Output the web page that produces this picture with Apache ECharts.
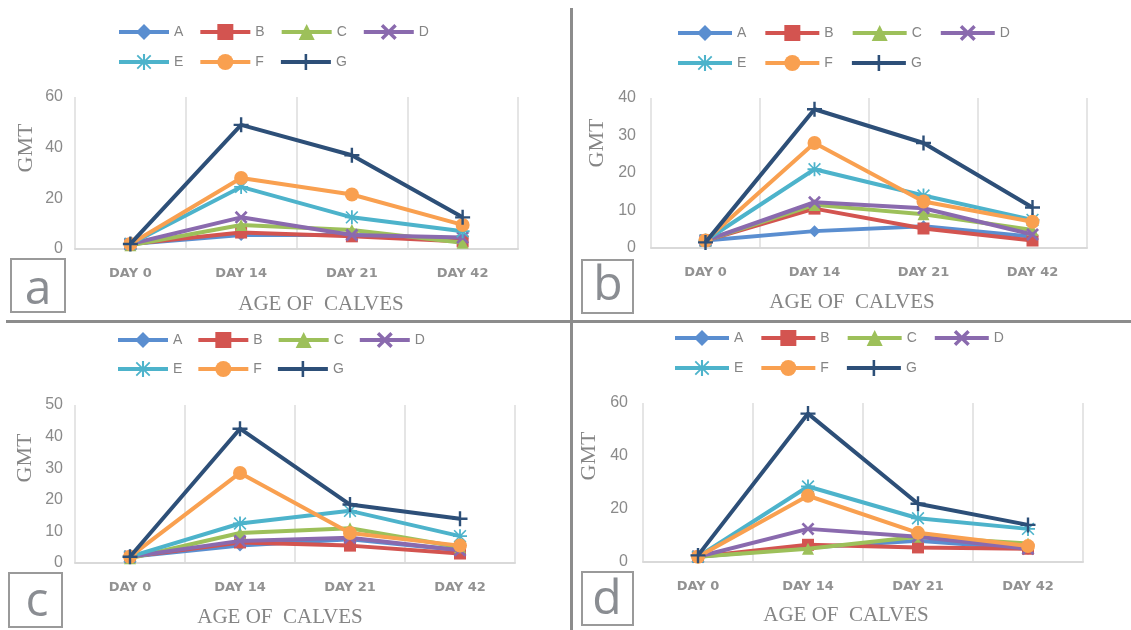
<!DOCTYPE html>
<html><head><meta charset="utf-8">
<script src="https://cdn.jsdelivr.net/npm/echarts@6/dist/echarts.min.js"></script>
<style>html,body{margin:0;padding:0;background:#fff}#c{width:1131px;height:630px}</style>
</head><body><div id="c"></div>
<script>
// ---- data ----
const categories = ['DAY 0', 'DAY 14', 'DAY 21', 'DAY 42'];
const seriesNames = ['A', 'B', 'C', 'D', 'E', 'F', 'G'];
const panelLetters = ['a', 'b', 'c', 'd'];
const yMax = [60, 40, 50, 60];
const yInterval = [20, 10, 10, 20];
// rows: A..G, columns: DAY 0, DAY 14, DAY 21, DAY 42
const panelA = [
  [2, 5.5, 5.5, 4],
  [2, 6.5, 5, 3],
  [1.5, 9.5, 7.5, 2.5],
  [2, 12.5, 5.5, 4.5],
  [2, 24.5, 12.5, 7],
  [2, 28, 21.5, 9.5],
  [2, 49, 37, 12.5]
];
const panelB = [
  [2, 4.5, 5.8, 3],
  [2, 10.5, 5.2, 2],
  [2, 11.5, 9, 4.8],
  [2, 12.2, 10.6, 3.6],
  [2, 21, 14, 7.5],
  [2, 28, 12.4, 7],
  [1.5, 37, 28, 10.8]
];
const panelC = [
  [2, 5.5, 7.5, 4],
  [2, 6.5, 5.5, 3],
  [1.5, 9.5, 11, 5],
  [2, 7, 8, 4],
  [2, 12.5, 16.5, 8.5],
  [2, 28.5, 9.5, 5.5],
  [2, 42.5, 18.5, 14]
];
const panelD = [
  [2, 5.5, 8, 5],
  [2, 6.5, 5.5, 5],
  [2, 5, 9.5, 7],
  [2, 12.5, 9.5, 5],
  [2, 28.5, 16.5, 12.5],
  [2, 25, 11, 6],
  [2.5, 56, 22, 14]
];
const panels = [panelA, panelB, panelC, panelD];

// ---- styles ----
const colors = ['#5a8ed0', '#d35450', '#9dc05a', '#8a6aae', '#4db3cb', '#f9a050', '#2d4f78'];
const X_PATH = 'path://M1.5,0L5,3.5L8.5,0L10,1.5L6.5,5L10,8.5L8.5,10L5,6.5L1.5,10L0,8.5L3.5,5L0,1.5Z';
const PLUS_PATH = 'path://M4.2,0H5.8V4.2H10V5.8H5.8V10H4.2V5.8H0V4.2H4.2Z';
const STAR_PATH = 'path://M4.35,0H5.65V4.35H10V5.65H5.65V10H4.35V5.65H0V4.35H4.35Z M1.2,0.4L5,4.2L8.8,0.4L9.6,1.2L5.8,5L9.6,8.8L8.8,9.6L5,5.8L1.2,9.6L0.4,8.8L4.2,5L0.4,1.2Z';
const symbols = ['diamond', 'rect', 'triangle', X_PATH, STAR_PATH, 'circle', PLUS_PATH];
const symbolSizes = [12, 12, 12, 13, 14, 14, 15];

const grids = [
  {left: 75, top: 97, width: 443, height: 152},
  {left: 651, top: 98, width: 436, height: 150},
  {left: 75, top: 405, width: 440, height: 158},
  {left: 643, top: 403, width: 440, height: 159}
];
const yLabelMargin = [12, 15, 12, 15];
const legendPos = [
  {left: 117, top1: 24, top2: 54, w: 50, gap: 15},
  {left: 676, top1: 25, top2: 55, w: 54, gap: 17},
  {left: 116, top1: 332, top2: 361, w: 50, gap: 14},
  {left: 673, top1: 330, top2: 360, w: 54, gap: 16}
];
const gmtPos = [[26, 148], [597, 143], [25, 458], [589, 456]];
const agePos = [[321, 304], [852, 302], [280, 617], [846, 615]];
const boxPos = [[11, 259, 54, 53], [582, 260, 51, 53], [9, 573, 53, 54], [582, 572, 51, 53]];
const letterPos = [[38, 290], [608, 286], [37, 602], [607, 600]];

const txtGray = '#858585';
const option = {
  animation: false,
  backgroundColor: '#fff',
  grid: grids,
  xAxis: grids.map((g, p) => ({
    gridIndex: p, type: 'category', data: categories, boundaryGap: true,
    axisLine: {lineStyle: {color: '#d9d9d9', width: 2}},
    axisTick: {show: false},
    splitLine: {show: true, interval: 0, lineStyle: {color: '#dcdcdc', width: 1.5}},
    axisLabel: {interval: 0, color: '#929292', fontSize: 13, fontWeight: 'bold', margin: 18, fontFamily: 'DejaVu Sans'}
  })),
  yAxis: grids.map((g, p) => ({
    gridIndex: p, type: 'value', min: 0, max: yMax[p], interval: yInterval[p],
    splitLine: {show: false}, axisLine: {show: false}, axisTick: {show: false},
    axisLabel: {color: '#8a8a8a', fontSize: 16, margin: yLabelMargin[p], padding: [5, 0, 0, 0], fontFamily: 'Liberation Sans'}
  })),
  legend: [],
  series: [],
  graphic: []
};

legendPos.forEach(l => {
  [[seriesNames.slice(0, 4), l.top1], [seriesNames.slice(4), l.top2]].forEach(([names, top]) => {
    option.legend.push({
      left: l.left, top: top, padding: 0, itemWidth: l.w, itemHeight: 20, itemGap: l.gap,
      data: names, selectedMode: false,
      lineStyle: {width: 4},
      textStyle: {color: txtGray, fontSize: 14, fontFamily: 'Liberation Sans'}
    });
  });
});

panels.forEach((rows, p) => {
  rows.forEach((vals, i) => {
    option.series.push({
      type: 'line', name: seriesNames[i], xAxisIndex: p, yAxisIndex: p,
      data: vals, symbol: symbols[i], symbolSize: symbolSizes[i],
      lineStyle: {width: 4, color: colors[i]},
      itemStyle: {color: colors[i]},
      z: 2 + i
    });
  });
});

// dividers
option.graphic.push({type: 'rect', shape: {x: 570, y: 8, width: 3, height: 622}, style: {fill: '#8c8c8c'}, silent: true});
option.graphic.push({type: 'rect', shape: {x: 6, y: 320, width: 1125, height: 3}, style: {fill: '#8c8c8c'}, silent: true});

panelLetters.forEach((ch, p) => {
  const b = boxPos[p];
  option.graphic.push({type: 'rect', shape: {x: b[0], y: b[1], width: b[2], height: b[3]},
    style: {fill: 'none', stroke: '#9a9a9a', lineWidth: 2}, silent: true});
  option.graphic.push({type: 'text', x: letterPos[p][0], y: letterPos[p][1],
    style: {text: ch, font: '48px "Open Sans"', fill: '#8a8d92', align: 'center', verticalAlign: 'middle'}, silent: true});
  option.graphic.push({type: 'text', x: gmtPos[p][0], y: gmtPos[p][1], rotation: Math.PI / 2,
    style: {text: 'GMT', font: '22px "Liberation Serif"', fill: txtGray, align: 'center', verticalAlign: 'middle'}, silent: true});
  option.graphic.push({type: 'text', x: agePos[p][0], y: agePos[p][1],
    style: {text: 'AGE OF  CALVES', font: '21px "Liberation Serif"', fill: txtGray, align: 'center', verticalAlign: 'middle'}, silent: true});
});

const chart = echarts.init(document.getElementById('c'));
chart.setOption(option);
</script>
</body></html>
